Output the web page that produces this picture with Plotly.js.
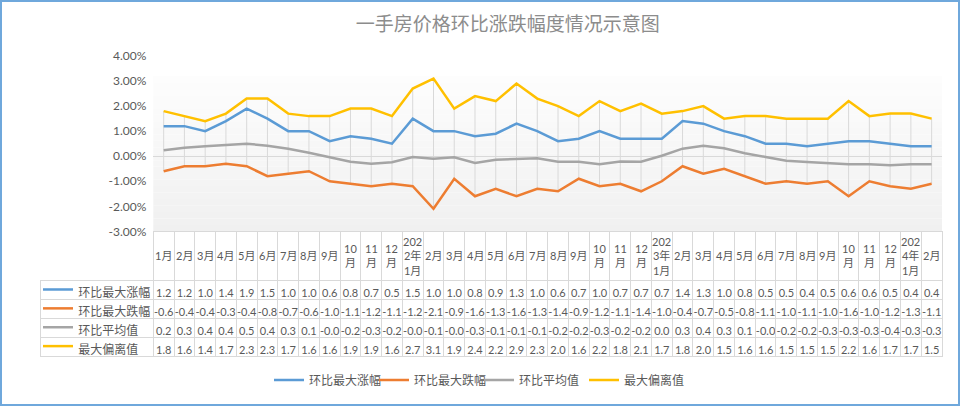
<!DOCTYPE html>
<html>
<head>
<meta charset="utf-8">
<script src="https://cdn.plot.ly/plotly-3.0.1.min.js"></script>
<style>
  body { margin: 0; background: #fff; }
  #wrap { position: relative; width: 960px; height: 406px; }
  #frame { position: absolute; left: 0; top: 0; width: 960px; height: 406px;
           box-sizing: border-box; border: 2px solid #6fa8dc; pointer-events: none; }
</style>
</head>
<body>
<div id="wrap">
  <div id="chart" style="width:960px;height:406px;"></div>
  <div id="frame"></div>
</div>
<script>
// month labels (as printed in the data table header)
const months = [
    '1月', '2月', '3月', '4月', '5月', '6月', '7月', '8月', '9月', '10<br>月', '11<br>月', '12<br>月',
    '202<br>2年<br>1月', '2月', '3月', '4月', '5月', '6月', '7月', '8月', '9月', '10<br>月', '11<br>月', '12<br>月',
    '202<br>3年<br>1月', '2月', '3月', '4月', '5月', '6月', '7月', '8月', '9月', '10<br>月', '11<br>月', '12<br>月',
    '202<br>4年<br>1月', '2月'
];

const seriesNames = ['环比最大涨幅', '环比最大跌幅', '环比平均值', '最大偏离值'];
const seriesColors = ['#5b9bd5', '#ed7d31', '#a5a5a5', '#ffc000'];

// values in %
const maxRise = [
    1.2, 1.2, 1.0, 1.4, 1.9, 1.5, 1.0, 1.0, 0.6, 0.8, 0.7, 0.5,
    1.5, 1.0, 1.0, 0.8, 0.9, 1.3, 1.0, 0.6, 0.7, 1.0, 0.7, 0.7,
    0.7, 1.4, 1.3, 1.0, 0.8, 0.5, 0.5, 0.4, 0.5, 0.6, 0.6, 0.5,
    0.4, 0.4
];
const maxFall = [
    -0.6, -0.4, -0.4, -0.3, -0.4, -0.8, -0.7, -0.6, -1.0, -1.1, -1.2, -1.1,
    -1.2, -2.1, -0.9, -1.6, -1.3, -1.6, -1.3, -1.4, -0.9, -1.2, -1.1, -1.4,
    -1.0, -0.4, -0.7, -0.5, -0.8, -1.1, -1.0, -1.1, -1.0, -1.6, -1.0, -1.2,
    -1.3, -1.1
];
const average = [
    0.24, 0.34, 0.40, 0.44, 0.50, 0.42, 0.30, 0.14, -0.04, -0.22, -0.30, -0.24,
    -0.03, -0.10, -0.04, -0.27, -0.14, -0.10, -0.08, -0.22, -0.22, -0.32, -0.21, -0.22,
    0.02, 0.30, 0.42, 0.32, 0.12, -0.03, -0.18, -0.23, -0.27, -0.32, -0.32, -0.36,
    -0.32, -0.32
];
const maxDeviation = [
    1.8, 1.6, 1.4, 1.7, 2.3, 2.3, 1.7, 1.6, 1.6, 1.9, 1.9, 1.6,
    2.7, 3.1, 1.9, 2.4, 2.2, 2.9, 2.3, 2.0, 1.6, 2.2, 1.8, 2.1,
    1.7, 1.8, 2.0, 1.5, 1.6, 1.6, 1.5, 1.5, 1.5, 2.2, 1.6, 1.7,
    1.7, 1.5
];

const yTicks = [-3, -2, -1, 0, 1, 2, 3, 4];

const allSeries = [maxRise, maxFall, average, maxDeviation];
const idx = months.map((_, i) => i);

const labelFont = 'Lato, "Noto Sans CJK SC", sans-serif';
const textColor = '#595959';
const gridColor = '#d9d9d9';

// geometry of the plot / table split (paper fractions, 310px tall plot region)
const paperH = 310, paperW = 902;
const plotBottom = 133.5 / paperH;
const headerH = 49, rowH = 19;

// high-low lines between the top and bottom series
const hlX = [];
const hlY = [];
idx.forEach(i => {
    hlX.push(i, i, null);
    hlY.push(maxDeviation[i], maxFall[i], null);
});
const highLow = {
    type: 'scatter',
    mode: 'lines',
    x: hlX,
    y: hlY,
    line: { color: gridColor, width: 1 },
    hoverinfo: 'skip',
    showlegend: false,
};

const lineTraces = allSeries.map((vals, k) => ({
    type: 'scatter',
    mode: 'lines',
    x: idx,
    y: vals,
    name: seriesNames[k],
    line: { color: seriesColors[k], width: 2.5 },
    hoverinfo: 'skip',
}));

// data table under the plot (header cells only give the grid; month text is set below)
const firstCol = seriesNames.map(n => '\u3000\u3000\u00a0\u00a0' + n);
const tableValues = [firstCol].concat(idx.map(i => allSeries.map(s => s[i].toFixed(1))));

const table = {
    type: 'table',
    domain: { x: [0, 1], y: [0, plotBottom] },
    columnwidth: [113.3].concat(months.map(() => 20.75)),
    header: {
        values: [''].concat(months.map(() => '')),
        height: headerH,
        fill: { color: 'rgba(0,0,0,0)' },
        line: { color: ['rgba(0,0,0,0)'].concat(months.map(() => gridColor)), width: 1 },
    },
    cells: {
        values: tableValues,
        height: rowH,
        align: ['left'].concat(months.map(() => 'center')),
        fill: { color: 'white' },
        line: { color: gridColor, width: 1 },
        font: { family: labelFont, size: [12].concat(months.map(() => 11)), color: textColor },
    },
};

// month labels centred in each header cell
const headerMid = plotBottom - (headerH / 2) / paperH;
const monthAnnotations = months.map((m, i) => ({
    x: i, xref: 'x',
    y: headerMid, yref: 'paper', yanchor: 'middle',
    text: m, showarrow: false,
    font: { family: labelFont, size: 11, color: textColor },
}));

// soft vertical gradient behind the plot area
const shapes = [];
const bands = 24;
const gTop = 3.2, gBottom = -3;
for (let b = 0; b < bands; b++) {
    const t = b / (bands - 1);
    const c = Math.round(253 - t * 13);
    shapes.push({
        type: 'rect', xref: 'paper', yref: 'y', layer: 'below',
        x0: 0.1256, x1: 1,
        y0: gTop - (gTop - gBottom) * b / bands,
        y1: gTop - (gTop - gBottom) * (b + 1) / bands,
        fillcolor: `rgb(${c},${c},${c})`,
        line: { width: 0 },
    });
}

// legend keys in the table's first column
seriesColors.forEach((col, k) => {
    const yMid = plotBottom - (headerH + rowH * (k + 0.5)) / paperH;
    shapes.push({
        type: 'line', xref: 'paper', yref: 'paper', layer: 'above',
        x0: 3 / paperW, x1: 33 / paperW, y0: yMid, y1: yMid,
        line: { color: col, width: 2.5 },
    });
});

const layout = {
    width: 960,
    height: 406,
    margin: { l: 40, r: 18, t: 56, b: 40 },
    paper_bgcolor: 'white',
    plot_bgcolor: 'rgba(0,0,0,0)',
    font: { family: labelFont, color: textColor },
    title: {
        text: '一手房价格环比涨跌幅度情况示意图',
        font: { family: '"Noto Sans CJK SC", sans-serif', size: 19, color: '#8c8c8c' },
        xref: 'container', x: 0.529, xanchor: 'center',
        yref: 'container', y: 0.94, yanchor: 'middle',
    },
    xaxis: {
        domain: [0.1256, 1],
        range: [-0.5, months.length - 0.5],
        showticklabels: false,
        showgrid: false,
        zeroline: false,
        ticks: '',
        fixedrange: true,
    },
    yaxis: {
        domain: [plotBottom, 1],
        range: [-3, 4],
        tickvals: yTicks,
        ticktext: yTicks.map(v => v.toFixed(2) + '%'),
        tickfont: { family: labelFont, size: 12, color: textColor },
        showgrid: false,
        zeroline: true,
        zerolinecolor: gridColor,
        zerolinewidth: 1,
        ticks: '',
        ticklabelstandoff: 6,
        fixedrange: true,
    },
    shapes: shapes,
    annotations: monthAnnotations,
    showlegend: true,
    legend: {
        orientation: 'h',
        x: 0.4867, xanchor: 'center',
        y: -16 / paperH, yanchor: 'middle',
        font: { family: labelFont, size: 12, color: textColor },
        entrywidth: 60,
        entrywidthmode: 'pixels',
        traceorder: 'normal',
    },
};

Plotly.newPlot('chart', [table, highLow].concat(lineTraces), layout, { displayModeBar: false, staticPlot: true });
</script>
</body>
</html>
